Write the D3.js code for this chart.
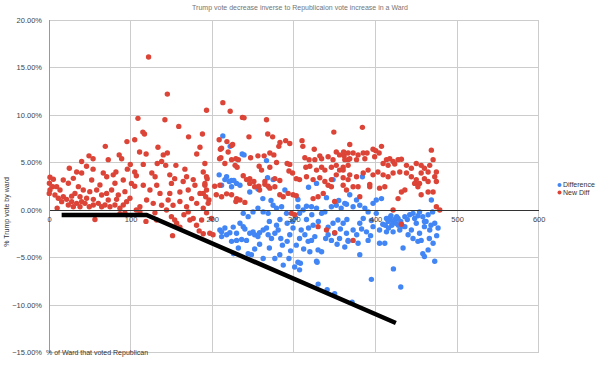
<!DOCTYPE html>
<html><head><meta charset="utf-8">
<script src="https://cdn.jsdelivr.net/npm/d3@7"></script>
<style>body{margin:0;background:#fff}svg{display:block}text{font-family:"Liberation Sans",Arial,sans-serif}</style>
</head><body>
<svg id="c" width="600" height="370"></svg>
<script>
const title = "Trump vote decrease inverse to Republicaion vote increase in a Ward";
const xTitle = "% of Ward that voted Republican";
const yTitle = "% Trump vote by ward";
const seriesNames = ["Difference", "New Diff"];
const xTicks = [0, 100, 200, 300, 400, 500, 600];
const yTicks = [-15, -10, -5, 0, 5, 10, 15, 20];

// New Diff (red) [x, y%]
const newDiff = [
[122,16.1],[145,12.2],[213,11.3],[193,10.5],[222,10.4],[109,9.65],[142,9.5],[159,8.8],[115,8.2],[117,8.0],[188,8.0],[171,7.7],[208.5,7.4],[218,7.2],[225,6.9],[95.5,7.2],[105,7.4],[69,6.7],[133.5,6.6],[185,6.6],
[237,9.75],[239,9.7],[266.5,9.5],[349,8.2],[245,7.7],[268,8.0],[274,7.7],[283,7.1],[290,7.3],[295,7.0],[281.6,6.7],[310,7.3],[311,6.7],[325,6.4],[210,6.4],[219.5,6.1],[247,5.5],[256,5.7],[263.6,5.7],[270.6,6.0],[275.5,5.8],[278.8,5.0],[229,5.4],[232,5.3],[210.6,5.5],[191,4.9],[228,4.7],[230.5,4.5],[257.5,4.6],[260.4,4.2],[270.6,4.5],[291.8,4.9],[295,4.8],[294,4.1],[298.4,3.9],[313.5,5.5],[318.7,5.3],[325.7,5.3],[331.8,5.7],[334,5.4],[342,5.6],[348,5.3],[352,6.1],[356,5.8],[361.6,5.7],[366.5,5.3],[314.7,4.5],[319.6,4.6],[327.8,4.2],[334,4.5],[338,4.2],[346,4.5],[352,4.7],[356,4.2],[360.4,4.5],[366.5,4.7],[193.8,3.3],[238,3.6],[242,3.2],[246,3.3],[251,3.0],[257,2.5],[264.5,2.7],[268.5,2.5],[276.7,3.3],[282.8,3.1],[303,3.3],[307,3.2],[315.5,3.5],[323.6,3.2],[331.8,3.4],[338,3.0],[346,3.2],[352,3.7],[360.4,3.4],[366.5,3.2],
[191,2.6],[203,2.5],[209.4,2.6],[189,1.75],[192,1.4],[196,1.05],[205,1.6],[211.5,1.4],[217.6,1.7],[223.7,1.6],[230,1.2],[234,1.05],[229,0.9],[240,0.8],[246,2.8],[252,2.45],[258,2.1],[264.5,3.0],[270.6,2.3],[276.7,2.45],[282.8,1.6],[287,1.4],[293,1.75],[299,1.6],[303,1.5],[323.6,1.2],[329.7,1.4],[336,1.75],[342,2.6],[346,2.45],[350,0.9],[360.4,2.6],[297,-0.35],[301,-0.5],[329.7,-1.75],[340,-2.1],[350,-2.4],[197,-2.45],[201,-2.6],
[384,8.7],[368.5,6.9],[361,6.1],[366.5,6.0],[372.6,6.0],[378.7,5.8],[385,6.0],[389.7,6.0],[397,6.4],[400.4,6.25],[404.5,6.0],[407.4,6.7],[399,5.6],[387,5.4],[376.8,5.3],[368.5,5.4],[362.4,5.3],[413.5,5.3],[417.5,5.4],[421.6,5.1],[427.7,5.3],[431.8,5.35],[423.6,4.85],[415.5,4.7],[409.4,4.9],[438,4.7],[444,4.4],[450,4.9],[456,4.7],[460,4.4],[466.5,4.7],[470.6,5.3],[468.5,6.3],[474.6,4.0],[464.5,4.0],[456,3.9],[360.4,4.2],[368.5,3.7],[376.8,3.5],[385,3.9],[391,4.2],[397,3.7],[403,4.0],[409.4,3.7],[415.5,3.5],[421.6,3.9],[429.8,4.0],[438,3.9],[444,3.5],[450,3.2],[454,2.8],[460,3.3],[464.5,3.0],[472.6,3.5],[474.6,3.0],[364.5,2.1],[372.6,2.45],[380.8,1.4],[393,2.45],[405,2.3],[411.4,2.45],[431.8,1.9],[436,2.1],[456,1.6],[470.6,1.9],
[378.7,2.45],[393,2.7],[427.7,1.2],[448,2.8],[452,2.45],[464.5,1.9],[474.6,0.35],[478.8,0],[421.6,0],[372.6,-3.2],[431.8,-1.5],
[56.3,-1.0],[87,-0.4],[93,-0.3],[107,0],[111.4,-0.2],[118.8,-1.2],[129.8,-0.3],[131.9,-1.05],[144,0],[150,-0.7],[151.4,-2.7],[156.4,-1.4],[160.4,-1.8],[165.3,-0.5],[170.6,-0.2],[176.7,-0.9],[180.8,-1.6],[187,-1.05],[189,-2.5],[184,-2.2],[193,-0.3],[199,-0.9],[172.6,-1.05],[154,-1.05],
[111.4,0.35],[119.6,1.05],[127.7,0.7],[138,0.5],[146,1.05],[152,0.5],[160.4,0.9],[168.6,0.35],[174.7,1.2],[181,0.7],[189,0.2],[195,0.7],[136,1.75],[148,1.75],[160.4,1.9],[170.6,2.1],[185,1.75],[193,2.1],[123.7,2.1],[115.5,2.6],[132,2.6],[150,2.8],[164.4,3.0],[178.8,2.6],[191,2.8],
[111,6.1],[119,5.9],[145,6.0],[140,5.8],[181,5.9],[211.4,6.5],[223.7,6.8],[49,5.7],[54,5.4],[86,5.8],[89,5.4],[72.6,5.3],[40,5.1],[99.6,4.8],[115.5,4.8],[132.6,4.9],[138,5.1],[143,4.7],[155.5,4.7],[166.5,4.3],[209,5.4],[215.5,4.9],[223.7,5.3],[24.9,4.4],[33.9,4.0],[40,3.9],[46,4.6],[54,4.3],[66.5,3.9],[70.7,3.5],[78.7,3.7],[82,4.0],[96,4.3],[105,4.0],[107,3.6],[101,2.8],[105,2.5],[126,3.9],[130,3.5],[148,3.7],[154,3.3],[168.6,3.5],[176.7,3.2],[189,4.0],[193,3.5],
[1.2,3.44],[5.3,3.23],[0.5,2.81],[4.5,2.46],[9.4,2.46],[13.5,2.11],[1.2,2.11],[7.3,1.58],[11.4,1.23],[17.5,1.4],[15.5,0.88],[21.6,1.12],[23.7,0.53],[29.8,0.35],[27.8,0.88],[33.9,0.7],[38,0.35],[40,0.88],[44.1,0.7],[49.4,0.35],[54.3,0.53],[60.4,0.7],[64.5,0.35],[68.6,0.53],[74.7,0.35],[80.8,0.53],[86.9,0.18],[91,0.53],[95.1,0.88],[99.2,1.23],
[17.5,3.16],[23.7,2.81],[29.8,3.33],[36,2.46],[42,2.11],[50,1.93],[58.4,2.11],[64.5,1.58],[70.6,1.75],[76.7,2.11],[84.9,1.58],[93,1.93],[80.8,2.81],[62.4,2.63],[52.3,3.16],[91,3.16],[31.8,1.75],[0.3,1.75],[46.1,1.23],[54.3,1.12],[72.6,1.05],[82.8,1.12],[38,1.4],[27.8,1.46],[10,0.2]
];

// Difference (blue) [x, y%]
const difference = [
[213,7.8],[222,6.7],[236.7,5.9],[239,5.8],[266.5,5.2],[217.6,3.5],[223.7,3.1],[226.5,3.1],[208.5,3.7],[267.8,3.4],[274.6,3.2],[348,3.2],[327.8,2.8],
[215.5,3.2],[220.8,3.0],[229.8,2.8],[211.5,2.6],[223.7,2.45],[209.4,-2.1],[215.5,-1.9],[225.7,-1.8],[229.8,-2.45],[211.5,-2.8],
[234,2.6],[246,1.9],[256,2.2],[262,1.2],[272,1.0],[289,2.1],[305,1.1],[318,2.4],[340,1.3],[355,1.0],
[238,-0.35],[244,-0.7],[250,-0.2],[256,0.2],[262.4,-0.2],[268.5,-0.35],[274.6,0.5],[278.8,0.2],[285,0.35],[291,-0.35],[305,0.35],[307,-0.35],[311.4,0],[315.5,0.4],[321.6,0.35],[327.8,0.2],[334,-0.35],[338,-0.2],[346,0.35],[352,0.5],[358,0.2],[364.5,0.6],
[211.5,-2.3],[217.6,-2.6],[221.6,-2.4],[223.7,-3.3],[229.8,-3.2],[236,-3.1],[242,-3.2],[246,-2.45],[250,-2.3],[252,-2.6],[256,-2.8],[258,-2.4],[262.4,-2.1],[266.5,-1.9],[268.5,-2.6],[272.6,-3.0],[276.7,-2.45],[280.8,-2.1],[286,-3.7],[291.8,-3.3],[295,-2.6],[299,-1.9],[303,-3.7],[307,-3.0],[309,-2.1],[313.5,-2.6],[317.5,-3.3],[321.6,-3.2],[325.7,-2.8],[329.7,-4.2],[334,-4.4],[339,-3.0],[342,-2.6],[346,-3.2],[350,-2.45],[356,-3.0],[362.4,-3.9],[366.5,-3.2],[234,-1.4],[238,-1.75],[278.8,-1.6],[291.8,-1.4],[298.4,-1.2],[315.5,-1.0],[323.6,-1.6],[348,-1.4],[354,-1.05],
[244,-4.6],[248,-4.7],[262.4,-5.1],[276.7,-5.1],[282.8,-4.7],[287,-5.8],[301,-6.0],[307,-6.3],[305,-5.5],[327.8,-5.4],[319.6,-4.4],[294,-5.1],
[329.8,-7.8],[340.8,-8.4],[350,-8.8],[371.4,-9.7],[328.5,-5.5],[308,-5.6],
[368.5,1.6],[376.8,1.05],[362.4,0.7],[372.6,0.35],[380.8,0.5],[387,0.2],[397,0.7],[401,1.05],[407.4,1.2],[391,-0.2],[401,-0.35],[413.5,-0.9],[417.5,-1.05],[421.6,-1.2],[427.7,-0.9],[436,-0.7],[442,-0.5],[446,-0.35],[454,-0.2],[458,-0.7],[464.5,-0.5],[468.5,1.05],[472.6,-1.4],[476.7,-1.9],[466.5,-2.1],[460,-1.75],[454,-2.45],[450,-1.4],[444,-2.1],[436,-1.75],[429.8,-2.1],[421.6,-2.3],[413.5,-2.3],[405,-2.1],[397,-1.75],[389,-2.3],[380.8,-1.4],[372.6,-2.1],[364.5,-2.45],[360.4,-1.4],[366.5,-3.3],[378.7,-3.5],[391,-3.2],[405,-3.5],[411.4,-3.5],[433.8,-4.0],[446,-3.0],[452,-3.3],[458,-4.6],[460,-4.9],[464.5,-4.2],[472.6,-5.4],[470.6,-3.5],[380.8,-4.7],[395,-7.3],[422,-6.2],[431,-8.1],[415.5,-1.2],[423.6,-1.0],[417.5,-0.8],[384,3.5],
[419,-0.6],[425,-1.4],[431,-1.2],[439,-1.0],[448,-0.9],[462,-1.2],[470,-0.2],[385,-0.9],[395,-1.1],[409,-1.5],[377,-2.6],[383,-2.0],[394,-2.7],[440,-2.6],[456,-3.2],[466,-3.0],[475,-2.7],[365,-1.0],[357,-2.0],[353,-3.6],[342,-1.8],[330,-1.2],[318,-1.9],[312,-4.1],[296,-4.3],[284,-3.0],[270,-4.0],[258,-3.6],[252,-4.1],[232,-4.0],[226,-4.6],[240,-2.0],[283,-1.0],[270,-1.2],[302,-0.8],[322,-0.5],
[412,-1.6],[416,-1.9],[420,-1.6],[428,-1.6],[433,-1.7],[426,-0.7],[452,-0.6],[460,-1.2],[468,-1.6]
];

// Drawn black trend line [x, y%]
const trendLine = [[15.5,-0.53],[119.6,-0.53],[425,-11.9]];

const colors = {"Difference":"#4285f4","New Diff":"#db4437"};

const svg = d3.select("#c");
const x = d3.scaleLinear().domain([0,600]).range([49,538.7]);
const y = d3.scaleLinear().domain([-15,20]).range([352.5,20]);

// grid
const g = svg.append("g");
g.selectAll(".vg").data(xTicks).join("line")
  .attr("x1",d=>x(d)).attr("x2",d=>x(d)).attr("y1",y(20)).attr("y2",y(-15))
  .attr("stroke","#cccccc").attr("stroke-width",1).attr("shape-rendering","crispEdges");
g.selectAll(".hg").data(yTicks.filter(d=>d!==0)).join("line")
  .attr("x1",x(0)).attr("x2",x(600)).attr("y1",d=>y(d)).attr("y2",d=>y(d))
  .attr("stroke","#cccccc").attr("stroke-width",1).attr("shape-rendering","crispEdges");
// left axis line
g.append("line").attr("x1",x(0)).attr("x2",x(0)).attr("y1",y(20)).attr("y2",y(-15))
  .attr("stroke","#999").attr("shape-rendering","crispEdges");

// y axis labels
const ya = svg.append("g").attr("transform",`translate(${x(0)},0)`)
  .call(d3.axisLeft(y).tickValues(yTicks).tickSize(0).tickPadding(7).tickFormat(d=>d3.format(".2f")(d)+"%"));
ya.select(".domain").remove();
ya.selectAll("text").attr("font-size","7.5px").attr("fill","#444").style("font-family","'Liberation Sans',Arial,sans-serif");

// points
svg.append("g").selectAll("circle").data(difference).join("circle")
  .attr("cx",d=>x(d[0])).attr("cy",d=>y(d[1])).attr("r",2.7).attr("fill",colors["Difference"]);
svg.append("g").selectAll("circle").data(newDiff).join("circle")
  .attr("cx",d=>x(d[0])).attr("cy",d=>y(d[1])).attr("r",2.7).attr("fill",colors["New Diff"]);

// zero axis + x labels
const xa = svg.append("g").attr("transform",`translate(0,${y(0)})`)
  .call(d3.axisBottom(x).tickValues(xTicks).tickSize(0).tickPadding(7).tickFormat(d3.format("d")));
xa.select(".domain").attr("stroke","#333").attr("shape-rendering","crispEdges");
xa.selectAll("text").attr("font-size","7.5px").attr("fill","#444").style("font-family","'Liberation Sans',Arial,sans-serif");

// trend line
svg.append("path").datum(trendLine)
  .attr("d",d3.line().x(d=>x(d[0])).y(d=>y(d[1])))
  .attr("fill","none").attr("stroke","#000").attr("stroke-width",4.5).attr("stroke-linejoin","miter");

// title
svg.append("text").attr("x",300).attr("y",9.5).attr("text-anchor","middle")
  .attr("font-size","7px").attr("fill","#757575").text(title);
// axis titles
svg.append("text").attr("x",46).attr("y",355).attr("font-size","7px").attr("fill","#333").text(xTitle);
svg.append("text").attr("transform","translate(9,212) rotate(-90)").attr("text-anchor","middle")
  .attr("font-size","7px").attr("fill","#333").text(yTitle);

// legend
const lg = svg.append("g");
seriesNames.forEach((n,i)=>{
  lg.append("circle").attr("cx",559.5).attr("cy",185+i*7.5).attr("r",2).attr("fill",colors[n]);
  lg.append("text").attr("x",563).attr("y",185+i*7.5).attr("dy","0.35em").attr("font-size","7px").attr("fill","#333").text(n);
});
</script>
</body></html>
